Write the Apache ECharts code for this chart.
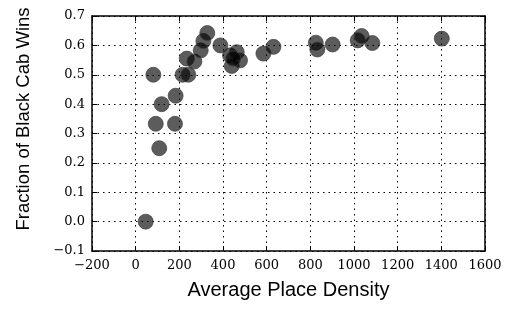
<!DOCTYPE html>
<html><head><meta charset="utf-8">
<script src="https://cdn.jsdelivr.net/npm/echarts@6/dist/echarts.min.js"></script>
<style>html,body{margin:0;padding:0;background:#fff}#c{width:511px;height:315px}</style>
</head><body><div id="c"></div>
<script>
const densities = [46,81,92,108,119,183,180,215,241,234,269,298,310,328,388,432,440,463,478,447,585,631,825,832,902,1017,1035,1084,1402];
const winFractions = [0.0,0.5,0.333,0.25,0.4,0.4286,0.333,0.5,0.5,0.555,0.545,0.583,0.615,0.642,0.6,0.566,0.53,0.577,0.549,0.555,0.572,0.595,0.609,0.586,0.603,0.617,0.632,0.608,0.623];
const xTitle = 'Average Place Density';
const yTitle = 'Fraction of Black Cab Wins';

const pts = densities.map((d,i)=>[d,winFractions[i]]);
const minus = s => String(s).replace('-', '\u2212');
const serif = '"DejaVu Serif", "Liberation Serif", serif';
const sans = '"Liberation Sans", Arial, sans-serif';
const common = {
  axisLine:{show:true,onZero:false,lineStyle:{color:'#000',width:1.5}},
  axisTick:{show:true,inside:true,length:5,lineStyle:{color:'#000',width:1}},
};
const chart = echarts.init(document.getElementById('c'));
chart.setOption({
  animation:false,
  grid:{left:92,right:26,top:16,bottom:64},
  graphic:[{type:'text',left:15,top:119,rotation:Math.PI/2,
    style:{text:yTitle,fill:'#000',font:'18.5px "Liberation Sans", Arial, sans-serif',align:'center',verticalAlign:'middle'},
    x:24,y:119,left:null,top:null}],
  xAxis:[
    Object.assign({type:'value',min:-200,max:1600,interval:200,position:'bottom',
      axisLabel:{color:'#000',fontFamily:serif,fontSize:13,margin:8,formatter:v=>minus(v)},
      splitLine:{show:true,lineStyle:{color:'#000',type:[1.5,4],width:1}},
      name:xTitle,nameLocation:'middle',nameGap:29,
      nameTextStyle:{color:'#000',fontFamily:sans,fontSize:20}},common),
    Object.assign({type:'value',min:-200,max:1600,interval:200,position:'top',
      axisLabel:{show:false},splitLine:{show:false}},common)
  ],
  yAxis:[
    Object.assign({type:'value',min:-0.1,max:0.7,interval:0.1,position:'left',
      axisLabel:{color:'#000',fontFamily:serif,fontSize:13,margin:7,formatter:v=>minus(v.toFixed(1))},
      splitLine:{show:true,lineStyle:{color:'#000',type:[1.5,4],width:1}}},common),
    Object.assign({type:'value',min:-0.1,max:0.7,interval:0.1,position:'right',
      axisLabel:{show:false},splitLine:{show:false}},common)
  ],
  series:[{
    type:'scatter',data:pts,symbol:'circle',symbolSize:15,
    itemStyle:{color:'rgba(0,0,0,0.8)',borderColor:'rgba(60,60,60,0.85)',borderWidth:1}
  }]
});
</script></body></html>
